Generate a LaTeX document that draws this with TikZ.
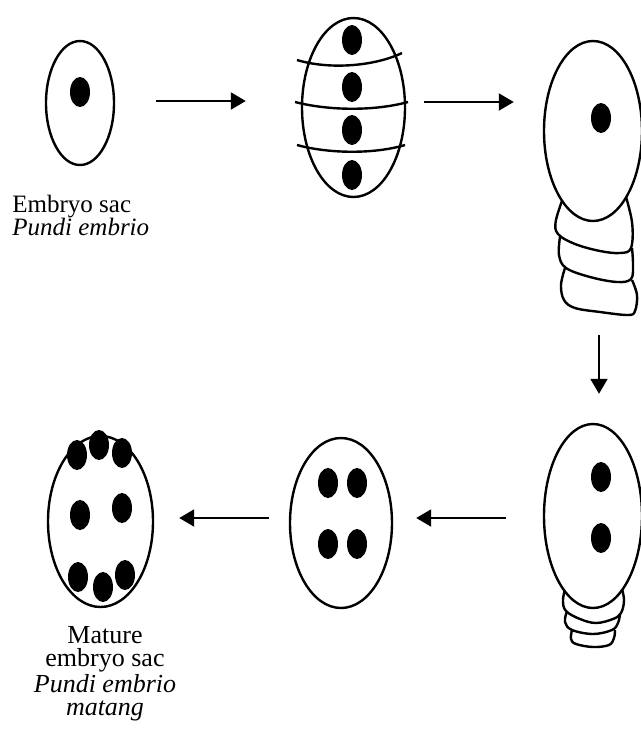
\documentclass[tikz,border=0pt]{standalone}
\usepackage{fontspec}
\setmainfont{Liberation Serif}
\usetikzlibrary{calc,shapes.geometric,arrows.meta}
\def\nucleus(#1){\fill (#1) ellipse (10 and 15);}

\begin{document}
\begin{tikzpicture}[x=0.5pt, y=-0.5pt,
		sac/.style={ellipse, draw, fill=white, line width=1.2pt, inner sep=0pt},
		seg/.style={line width=1.2pt, line join=round},
		arr/.style={line width=1pt, -{Triangle[length=7.5pt, width=8.5pt]}},
		lbl/.style={inner sep=0pt, font=\fontsize{12.5}{11.5}\selectfont}]
			%%%%% START %%%%%
			\useasboundingbox (0,0) rectangle (641,740);
			
			% one nucleus
			\node[sac, minimum width=34pt, minimum height=62pt] (sac1) at (80,103) {};
			\nucleus(80,92)
			\node[lbl, anchor=north west, align=left] (lab1) at (12,195) {Embryo sac\\\textit{Pundi embrio}};
			
			% four nuclei with walls
			\node[sac, minimum width=51.5pt, minimum height=89.5pt] (sac2) at (353.5,107.5) {};
			\nucleus(352,40) \nucleus(352,87) \nucleus(352,130) \nucleus(352,175)
			\draw[seg] (297,60) .. controls (330,70) and (375,66) .. (402,53);
			\draw[seg] (295,102) .. controls (330,111) and (375,111) .. (408,102);
			\draw[seg] (297,145) .. controls (330,154) and (375,154) .. (405,145);
			
			% sac with three cells below
			\draw[seg] plot[smooth, tension=0.6] coordinates {(566,190) (556,220) (558,234) (575,244) (600,251) (620,253) (631,248) (632,222) (624,190)};
			\draw[seg] plot[smooth, tension=0.6] coordinates {(560,237) (559,255) (566,268) (590,277) (617,282) (631,279) (633,265) (632,248)};
			\draw[seg] plot[smooth, tension=0.6] coordinates {(565,268) (561,285) (564,300) (575,308) (600,312) (628,315) (635,311) (637,295) (632,280)};
			\coordinate (tail3) at (600,313);
			\node[sac, minimum width=49pt, minimum height=90pt] (sac3) at (593,131) {};
			\nucleus(601,118)
			
			% two nuclei, short tail
			\draw[seg] plot[smooth, tension=0.6] coordinates {(566,585) (563,600) (566,611) (580,619) (596,623) (613,619) (621,613) (624,600) (621,585)};
			\draw[seg] plot[smooth, tension=0.6] coordinates {(567,611) (565,622) (572,630) (593,634) (612,630) (618,623) (620,614)};
			\draw[seg] plot[smooth, tension=0.6] coordinates {(572,630) (571,639) (576,644) (593,647) (609,645) (614,638) (615,630)};
			\node[sac, minimum width=49pt, minimum height=92pt] (sac4) at (593,516) {};
			\nucleus(601,477) \nucleus(601,538)
			
			% four free nuclei
			\node[sac, minimum width=51pt, minimum height=85pt] (sac5) at (341,523) {};
			\nucleus(328,483) \nucleus(357,483)
			\nucleus(328,544) \nucleus(357,544)
			
			% mature sac, eight nuclei
			\node[sac, minimum width=52.5pt, minimum height=85.5pt] (sac6) at (100.5,521.5) {};
			\nucleus(77,455) \nucleus(99,445) \nucleus(122,453)
			\nucleus(80,515) \nucleus(122,508)
			\nucleus(78,577) \nucleus(103,587) \nucleus(125,575)
			\node[lbl, anchor=north, align=center, font=\fontsize{13}{11.5}\selectfont] (lab6) at (105,626) {Mature\\embryo sac\\\textit{Pundi embrio}\\\textit{matang}};
			
			% arrows between the stages
			\draw[arr] ($(sac1.east)+(41,-2)$) -- ($(sac2.west)+(-55,-6.5)$);
			\draw[arr] ($(sac2.east)+(18,-5.5)$) -- ($(sac3.west)+(-29,-29)$);
			\draw[arr] ($(tail3)+(-1,22)$) -- ($(sac4.north)+(6,-29)$);
			\draw[arr] ($(sac4.west)+(-37,2)$) -- ($(sac5.east)+(23,-5)$);
			\draw[arr] ($(sac5.west)+(-20,-5)$) -- ($(sac6.east)+(25,-3.5)$);
			
			%%%%% END %%%%%
		\end{tikzpicture}
\end{document}
